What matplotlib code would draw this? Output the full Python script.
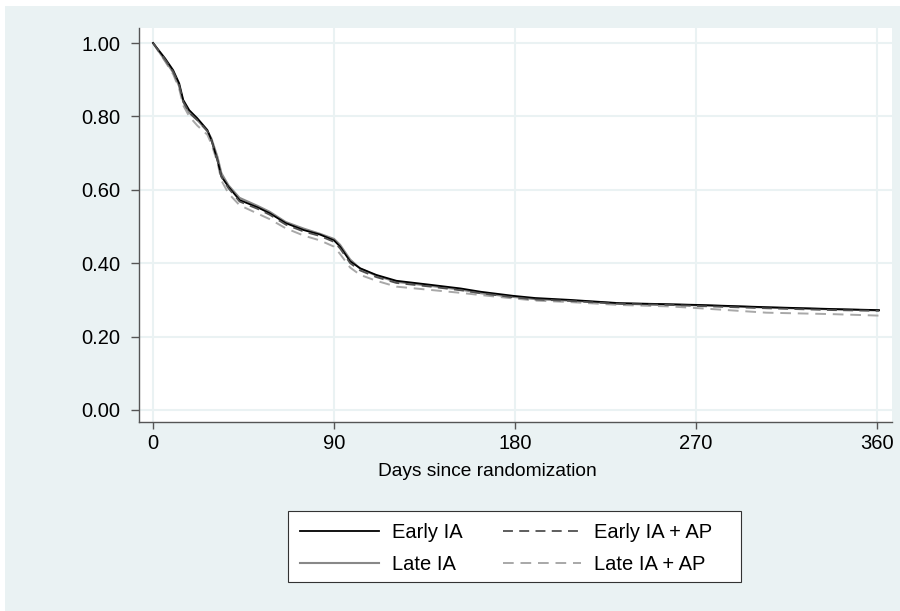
import matplotlib
matplotlib.use("Agg")
import matplotlib.pyplot as plt
from matplotlib.patches import Rectangle

plt.rcParams['font.family'] = ['Liberation Sans', 'DejaVu Sans']

# Kaplan-Meier estimates read at selected days
days = [0, 6, 10, 13, 15, 18, 22, 27, 29, 32, 34, 37.5, 43, 52, 58, 66, 75, 83,
        90, 93, 98, 103, 111, 121, 138, 153, 163, 179, 190, 207, 232, 257, 272,
        305, 338, 361]
early_ia = [1.0, 0.958, 0.926, 0.89, 0.845, 0.817, 0.795, 0.763, 0.736, 0.681,
            0.636, 0.608, 0.572, 0.552, 0.536, 0.509, 0.49, 0.478, 0.462, 0.445,
            0.405, 0.386, 0.368, 0.352, 0.341, 0.331, 0.322, 0.311, 0.305, 0.30,
            0.291, 0.288, 0.286, 0.28, 0.275, 0.272]
late_ia = [1.0, 0.952, 0.92, 0.882, 0.84, 0.81, 0.79, 0.76, 0.74, 0.69, 0.645,
           0.612, 0.578, 0.556, 0.54, 0.512, 0.494, 0.48, 0.466, 0.45, 0.41,
           0.385, 0.366, 0.349, 0.338, 0.328, 0.318, 0.308, 0.302, 0.298, 0.29,
           0.287, 0.285, 0.279, 0.274, 0.271]
early_ia_ap = [1.0, 0.955, 0.922, 0.885, 0.84, 0.81, 0.79, 0.76, 0.735, 0.68,
               0.635, 0.604, 0.568, 0.548, 0.532, 0.505, 0.486, 0.474, 0.458,
               0.44, 0.40, 0.38, 0.362, 0.346, 0.336, 0.326, 0.318, 0.307, 0.301,
               0.297, 0.289, 0.286, 0.283, 0.277, 0.272, 0.27]
late_ia_ap = [1.0, 0.95, 0.915, 0.875, 0.83, 0.80, 0.775, 0.75, 0.725, 0.675,
              0.625, 0.59, 0.558, 0.535, 0.52, 0.495, 0.475, 0.462, 0.445, 0.425,
              0.388, 0.368, 0.352, 0.336, 0.327, 0.319, 0.313, 0.304, 0.298,
              0.294, 0.286, 0.282, 0.277, 0.265, 0.261, 0.257]

xticks = [0, 90, 180, 270, 360]
yticks = [0.0, 0.2, 0.4, 0.6, 0.8, 1.0]
ytick_labels = ["0.00", "0.20", "0.40", "0.60", "0.80", "1.00"]

bg = "#eaf2f3"
fs = 14.5
W, H = 900, 611

fig = plt.figure(figsize=(9, 6.11), dpi=100)
fig.patch.set_facecolor("white")
# stata-like outer region, with a thin white margin at left/top
fig.patches.append(Rectangle((5 / W, 0), 1, 1 - 6 / H, transform=fig.transFigure,
                             facecolor=bg, edgecolor="none", zorder=-5))

ax = fig.add_axes([139 / W, 1 - 422 / H, (892 - 139) / W, (422 - 28) / H])
ax.set_facecolor("white")

lw = 1.3
ax.plot(days, early_ia, color="black", lw=lw, label="Early IA", zorder=4)
ax.plot(days, late_ia, color="#888888", lw=lw + 0.2, label="Late IA", zorder=3)
ax.plot(days, early_ia_ap, color="#505050", lw=lw, ls=(0, (5.5, 3.5)), label="Early IA + AP", zorder=5)
ax.plot(days, late_ia_ap, color="#a8a8a8", lw=lw + 0.1, ls=(0, (5.5, 3.5)), label="Late IA + AP", zorder=2)

ax.set_xlim(-7, 367.5)
ax.set_ylim(-0.033, 1.041)
ax.set_xticks(xticks)
ax.set_xticklabels([str(t) for t in xticks])
ax.set_yticks(yticks)
ax.set_yticklabels(ytick_labels)
ax.grid(True, color=bg, lw=1.5, zorder=0)
ax.set_axisbelow(True)

for s in ["top", "right"]:
    ax.spines[s].set_visible(False)
for s in ["left", "bottom"]:
    ax.spines[s].set_color("#555555")
    ax.spines[s].set_linewidth(1.0)
ax.tick_params(axis="both", direction="out", length=5.5, width=1.0, color="#555555",
               labelsize=fs, labelcolor="black")
ax.tick_params(axis="y", pad=8)
ax.tick_params(axis="x", length=4.7, pad=4)

fig.text(487 / W, 1 - 472 / H, "Days since randomization",
         fontsize=13.8, ha="center", va="center")

# legend box drawn separately so it can carry the wide right margin
fig.patches.append(Rectangle((288 / W, 1 - 582 / H), (741 - 288) / W, (582 - 511) / H,
                             transform=fig.transFigure, facecolor="white",
                             edgecolor="#333333", lw=0.8, zorder=1))
leg = fig.legend(loc="upper left", bbox_to_anchor=(288 / W, 1 - 511 / H),
                 ncol=2, fontsize=fs, frameon=False,
                 handlelength=3.9, handletextpad=0.65, columnspacing=2.0,
                 borderpad=0.6, labelspacing=0.62, borderaxespad=0)
leg.set_zorder(2)

fig.savefig("out.png", dpi=100, facecolor=fig.get_facecolor())
